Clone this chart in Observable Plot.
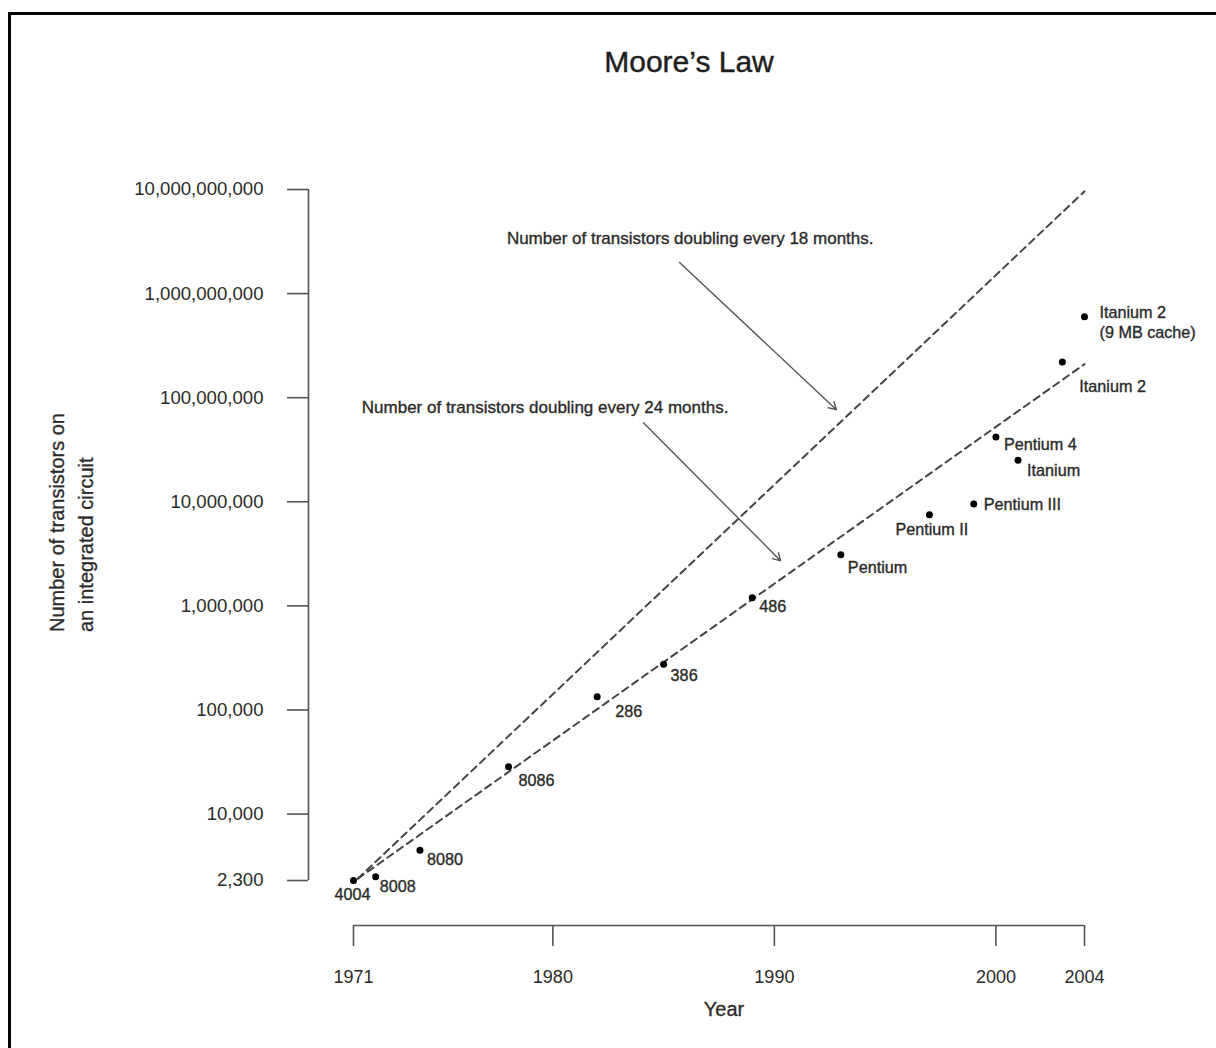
<!DOCTYPE html>
<html>
<head>
<meta charset="utf-8">
<script src="https://cdn.jsdelivr.net/npm/d3@7"></script>
<script src="https://cdn.jsdelivr.net/npm/@observablehq/plot@0.6"></script>
<style>
  html, body { margin: 0; padding: 0; background: #fff; }
  #page { position: relative; width: 1216px; height: 1048px; overflow: hidden; font-family: "Liberation Sans", Arial, sans-serif; color: #2a2a2a; }
  #border { position: absolute; left: 8px; top: 12px; width: 1300px; height: 1100px; border-left: 3px solid #000; border-top: 3px solid #000; }
  #chart { position: absolute; left: 0; top: 0; }
  #title { position: absolute; left: 689px; top: 45px; transform: translateX(-50%); font-size: 30px; white-space: nowrap; color: #1e1e1e; -webkit-text-stroke: 0.4px #1e1e1e; }
  #ylabel { position: absolute; left: 43px; top: 332px; width: 58px; height: 300px; writing-mode: vertical-rl; transform: rotate(180deg); font-size: 20px; line-height: 29px; text-align: left; white-space: nowrap; -webkit-text-stroke: 0.3px #2a2a2a; }
  #xlabel { position: absolute; left: 724px; top: 998px; transform: translateX(-50%); font-size: 20px; -webkit-text-stroke: 0.3px #2a2a2a; }
</style>
</head>
<body>
<div id="page">
  <div id="border"></div>
  <div id="title">Moore’s Law</div>
  <div id="ylabel">Number of transistors on<br>an integrated circuit</div>
  <div id="xlabel">Year</div>
  <div id="chart"></div>
</div>
<script>
// ---- data ----
const chips = ["4004", "8008", "8080", "8086", "286", "386", "486", "Pentium", "Pentium II", "Pentium III", "Pentium 4", "Itanium", "Itanium 2", "Itanium 2\n(9 MB cache)"];
const years = [1971, 1972, 1974, 1978, 1982, 1985, 1989, 1993, 1997, 1999, 2000, 2001, 2003, 2004];
const transistors = [2300, 2500, 4500, 28500, 134000, 275000, 1200000, 3100000, 7500000, 9500000, 42000000, 25000000, 220000000, 600000000];

const yTicks = [2300, 1e4, 1e5, 1e6, 1e7, 1e8, 1e9, 1e10];
const xTicks = [1971, 1980, 1990, 2000, 2004];

const trendYears = [1971.2, 2004];
const trend18 = [2400, 9.6e9];
const trend24 = [2400, 2.1e8];

const noteText = ["Number of transistors doubling every 18 months.", "Number of transistors doubling every 24 months."];
const noteYear = [1986.2, 1979.65];
const noteValue = [3.4e9, 8.0e7];
const arrowFromYear = [1985.72, 1984.09];
const arrowFromValue = [1.99e9, 5.75e7];
const arrowToYear = [1992.8, 1990.28];
const arrowToValue = [7.67e7, 2.71e6];

// ---- label placement (style) ----
const labelStyle = [
  {dx: -1, dy: 13, anchor: "middle"},
  {dx: 4, dy: 9, anchor: "start"},
  {dx: 7, dy: 9, anchor: "start"},
  {dx: 10, dy: 13, anchor: "start"},
  {dx: 18, dy: 14, anchor: "start"},
  {dx: 7, dy: 10, anchor: "start"},
  {dx: 7, dy: 8, anchor: "start"},
  {dx: 7, dy: 12, anchor: "start"},
  {dx: -34, dy: 14, anchor: "start"},
  {dx: 10, dy: 0, anchor: "start"},
  {dx: 8, dy: 7, anchor: "start"},
  {dx: 9, dy: 9, anchor: "start"},
  {dx: 17, dy: 24, anchor: "start"},
  {dx: 15, dy: 5, anchor: "start"}
];

const points = chips.map((c, i) => ({chip: c, year: years[i], n: transistors[i]}));
const trends = [
  ...trendYears.map((y, i) => ({series: "18", year: y, n: trend18[i]})),
  ...trendYears.map((y, i) => ({series: "24", year: y, n: trend24[i]}))
];
const notes = noteText.map((t, i) => ({t, year: noteYear[i], n: noteValue[i]}));
const arrows = arrowFromYear.map((y, i) => ({x1: y, y1: arrowFromValue[i], x2: arrowToYear[i], y2: arrowToValue[i]}));

const axisColor = "#555";
const textColor = "#2a2a2a";
const heavy = {stroke: textColor, strokeWidth: 0.35, paintOrder: "fill"};

const labelMarks = points.map((p, i) => Plot.text([p], {
  x: "year", y: "n", text: "chip",
  dx: labelStyle[i].dx, dy: labelStyle[i].dy, textAnchor: labelStyle[i].anchor,
  fontSize: 16.2, fill: textColor, lineHeight: 1.22, ...heavy
}));

const chart = Plot.plot({
  width: 1216,
  height: 1048,
  marginTop: 189,
  marginBottom: 168,
  marginLeft: 353,
  marginRight: 132,
  style: {fontFamily: "'Liberation Sans', Arial, sans-serif", background: "transparent", color: textColor},
  x: {domain: [1971, 2004], axis: null},
  y: {type: "log", domain: [2300, 1e10], axis: null},
  marks: [
    Plot.ruleX([1971], {y1: 2300, y2: 1e10, dx: -45, stroke: axisColor, strokeWidth: 1.6}),
    Plot.axisY(yTicks, {anchor: "left", tickFormat: d3.format(","), tickSize: 21, tickPadding: 24, dx: -45, fontSize: 18.6, stroke: axisColor, strokeWidth: 1.6, fill: textColor}),
    Plot.ruleY([2300], {x1: 1971, x2: 2004, dy: 45, stroke: axisColor, strokeWidth: 1.6}),
    Plot.axisX(xTicks, {anchor: "bottom", tickFormat: d => String(d), tickSize: 21, tickPadding: 24, dy: 45, fontSize: 18, stroke: axisColor, strokeWidth: 1.6, fill: textColor}),
    Plot.line(trends, {x: "year", y: "n", z: "series", stroke: "#444", strokeWidth: 2, strokeDasharray: "7,5"}),
    Plot.arrow(arrows, {x1: "x1", y1: "y1", x2: "x2", y2: "y2", stroke: "#555", strokeWidth: 1.4, headLength: 9}),
    Plot.text(notes, {x: "year", y: "n", text: "t", fontSize: 17, fill: textColor, ...heavy}),
    Plot.dot(points, {x: "year", y: "n", r: 3.5, fill: "#000"}),
    ...labelMarks
  ]
});
document.getElementById("chart").appendChild(chart);
</script>
</body>
</html>
